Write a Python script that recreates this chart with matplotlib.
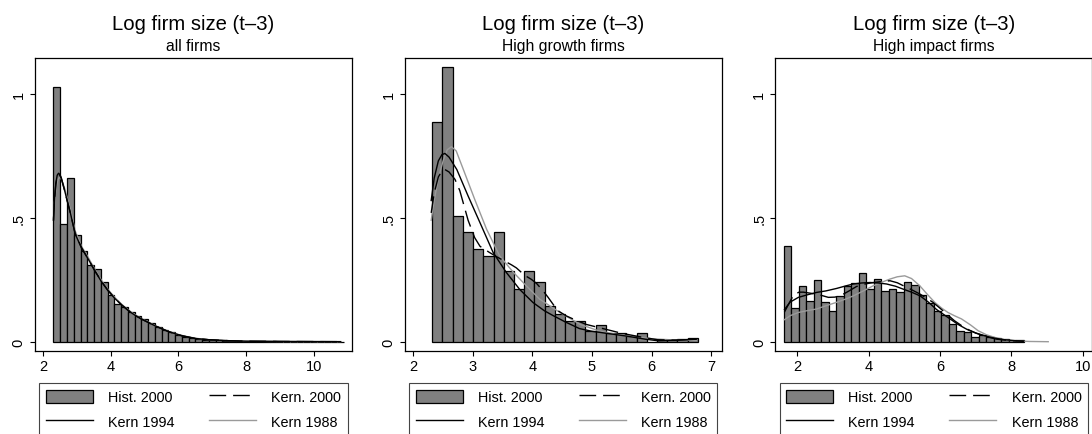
import numpy as np
import matplotlib
matplotlib.use('Agg')
import matplotlib.pyplot as plt
from matplotlib.patches import Patch
from matplotlib.lines import Line2D

matplotlib.rcParams['font.family'] = ['Liberation Sans', 'DejaVu Sans']
matplotlib.rcParams['lines.scale_dashes'] = False

##########################################
## Data          ##
##########################################
titles = ['Log firm size (t\u20133)'] * 3
subtitles = ['all firms', 'High growth firms', 'High impact firms']

# histogram 2000: first bin edge, bin width, densities
hist_start = [2.3, 2.318, 1.627]
hist_width = [0.2, 0.1715, 0.2098]
hist_all = [1.028, 0.477, 0.659, 0.432, 0.366, 0.309, 0.293, 0.243, 0.189, 0.154,
            0.142, 0.118, 0.102, 0.091, 0.075, 0.058, 0.047, 0.038, 0.027, 0.021,
            0.016, 0.011, 0.008, 0.006, 0.005, 0.004, 0.003, 0.002, 0.002, 0.0015,
            0.001, 0.001, 0.001, 0.0008, 0.0006, 0.0005, 0.0005, 0.0004, 0.0003,
            0.0003, 0.0002, 0.0002, 0.0004]
hist_growth = [0.886, 1.108, 0.509, 0.441, 0.374, 0.347, 0.441, 0.287, 0.213, 0.287,
               0.240, 0.145, 0.112, 0.085, 0.085, 0.044, 0.067, 0.034, 0.034, 0.024,
               0.034, 0.0, 0.008, 0.008, 0.011, 0.015]
hist_impact = [0.385, 0.135, 0.226, 0.166, 0.249, 0.162, 0.125, 0.186, 0.226, 0.236,
               0.276, 0.213, 0.253, 0.206, 0.213, 0.202, 0.240, 0.229, 0.188, 0.156,
               0.122, 0.109, 0.071, 0.044, 0.040, 0.017, 0.027, 0.017, 0.013, 0.011,
               0.007, 0.008]

# kernel densities, all firms
k_all_x = [2.3, 2.33, 2.37, 2.41, 2.45, 2.49, 2.53, 2.58, 2.64, 2.7, 2.8, 2.94, 3.13,
           3.33, 3.53, 3.73, 3.92, 4.12, 4.32, 4.52, 4.71, 4.91, 5.31, 5.7, 6.1, 6.5,
           6.9, 7.5, 8.0, 9.0, 10.0, 10.8]
k_all_2000 = [0.49, 0.57, 0.635, 0.668, 0.676, 0.672, 0.66, 0.635, 0.605, 0.572, 0.52,
              0.438, 0.38, 0.333, 0.285, 0.242, 0.206, 0.175, 0.148, 0.126, 0.107,
              0.091, 0.064, 0.041, 0.024, 0.013, 0.008, 0.004, 0.002, 0.001, 0.0005,
              0.0002]
k_all_1994 = [0.49, 0.575, 0.64, 0.672, 0.68, 0.675, 0.662, 0.636, 0.605, 0.572, 0.52,
              0.436, 0.378, 0.333, 0.285, 0.24, 0.205, 0.174, 0.148, 0.125, 0.107,
              0.091, 0.064, 0.041, 0.024, 0.013, 0.008, 0.004, 0.002, 0.001, 0.0005,
              0.0002]
k_all_1988 = [0.5, 0.565, 0.615, 0.645, 0.66, 0.662, 0.656, 0.64, 0.615, 0.585, 0.535,
              0.448, 0.385, 0.34, 0.29, 0.246, 0.21, 0.178, 0.151, 0.128, 0.109,
              0.093, 0.065, 0.042, 0.025, 0.014, 0.008, 0.004, 0.002, 0.001, 0.0005,
              0.0002]

# kernel densities, high growth firms
k_gr_2000_x = [2.3, 2.35, 2.42, 2.48, 2.53, 2.6, 2.7, 2.78, 2.92, 3.03, 3.12, 3.28,
               3.42, 3.56, 3.65, 3.73, 3.87, 3.98, 4.07, 4.18, 4.26, 4.35, 4.43, 4.56,
               4.69, 4.9, 5.1, 5.3, 5.5, 5.8, 6.1, 6.4, 6.75]
k_gr_2000 = [0.52, 0.6, 0.665, 0.69, 0.695, 0.685, 0.655, 0.61, 0.49, 0.42, 0.385,
             0.36, 0.34, 0.322, 0.31, 0.298, 0.268, 0.252, 0.235, 0.205, 0.18, 0.15,
             0.125, 0.105, 0.091, 0.07, 0.058, 0.046, 0.034, 0.02, 0.008, 0.006, 0.01]
k_gr_1994_x = [2.3, 2.35, 2.42, 2.48, 2.53, 2.6, 2.73, 2.92, 3.12, 3.34, 3.56, 3.79,
               4.01, 4.2, 4.35, 4.55, 4.79, 5.0, 5.3, 5.6, 5.9, 6.1, 6.4, 6.75]
k_gr_1994 = [0.57, 0.66, 0.73, 0.755, 0.76, 0.745, 0.695, 0.588, 0.48, 0.36, 0.28,
             0.21, 0.158, 0.125, 0.105, 0.08, 0.053, 0.042, 0.032, 0.022, 0.01, 0.004,
             0.006, 0.01]
k_gr_1988_x = [2.3, 2.35, 2.42, 2.5, 2.57, 2.64, 2.72, 2.84, 3.03, 3.23, 3.45, 3.68,
               3.9, 4.12, 4.46, 4.8, 5.1, 5.4, 5.7, 6.0, 6.3, 6.75]
k_gr_1988 = [0.49, 0.57, 0.66, 0.73, 0.775, 0.787, 0.77, 0.695, 0.575, 0.454, 0.346,
             0.28, 0.225, 0.172, 0.118, 0.07, 0.045, 0.03, 0.02, 0.012, 0.008, 0.005]

# kernel densities, high impact firms
k_im_2000_x = [1.64, 1.75, 1.9, 2.05, 2.17, 2.4, 2.65, 2.87, 3.05, 3.2, 3.45, 3.66,
               3.9, 4.13, 4.37, 4.6, 4.8, 4.97, 5.2, 5.44, 5.62, 5.8, 6.0, 6.2, 6.4,
               6.6, 6.8, 7.0, 7.3, 7.6, 8.0, 8.34]
k_im_2000 = [0.12, 0.15, 0.19, 0.2, 0.2, 0.195, 0.188, 0.179, 0.18, 0.185, 0.205,
             0.223, 0.233, 0.239, 0.243, 0.246, 0.238, 0.226, 0.21, 0.192, 0.176,
             0.159, 0.135, 0.11, 0.085, 0.065, 0.048, 0.035, 0.02, 0.01, 0.004, 0.002]
k_im_1994_x = [1.64, 1.8, 2.03, 2.3, 2.54, 2.8, 3.1, 3.35, 3.57, 3.8, 4.04, 4.27, 4.5,
               4.75, 4.97, 5.2, 5.44, 5.67, 5.9, 6.2, 6.5, 6.75, 7.0, 7.25, 7.5, 7.8,
               8.1, 8.34]
k_im_1994 = [0.13, 0.16, 0.179, 0.19, 0.199, 0.205, 0.215, 0.225, 0.233, 0.237, 0.239,
             0.237, 0.233, 0.224, 0.212, 0.2, 0.185, 0.16, 0.13, 0.1, 0.07, 0.05,
             0.035, 0.024, 0.015, 0.008, 0.004, 0.002]
k_im_1988_x = [1.64, 1.8, 2.03, 2.3, 2.54, 2.8, 3.1, 3.35, 3.57, 3.85, 4.13, 4.4, 4.6,
               4.8, 5.01, 5.2, 5.43, 5.65, 5.85, 6.05, 6.22, 6.4, 6.6, 6.85, 7.07, 7.3,
               7.54, 7.8, 8.0, 8.5, 9.03]
k_im_1988 = [0.089, 0.105, 0.118, 0.126, 0.132, 0.145, 0.159, 0.172, 0.185, 0.205,
             0.226, 0.242, 0.253, 0.262, 0.266, 0.255, 0.226, 0.19, 0.159, 0.135,
             0.118, 0.105, 0.092, 0.068, 0.044, 0.028, 0.017, 0.008, 0.004, 0.001, 0.0]

hists = [hist_all, hist_growth, hist_impact]
kern_2000 = [(k_all_x, k_all_2000), (k_gr_2000_x, k_gr_2000), (k_im_2000_x, k_im_2000)]
kern_1994 = [(k_all_x, k_all_1994), (k_gr_1994_x, k_gr_1994), (k_im_1994_x, k_im_1994)]
kern_1988 = [(k_all_x, k_all_1988), (k_gr_1988_x, k_gr_1988), (k_im_1988_x, k_im_1988)]

xticks = [[2, 4, 6, 8, 10], [2, 3, 4, 5, 6, 7], [2, 4, 6, 8, 10]]
xlims = [(1.753, 11.136), (1.855, 7.178), (1.383, 10.265)]
yticks = [0, 0.5, 1]
ytick_labels = ['0', '.5', '1']
# legend fills column by column: col 1 = Hist/Kern 1994, col 2 = Kern. 2000/Kern 1988
legend_labels = ['Hist. 2000', 'Kern 1994', 'Kern. 2000', 'Kern 1988']

##########################################
## Style                                ##
##########################################
W, H = 1092, 435
bar_color = '#808080'
gray_line = '#9a9a9a'
dash = (0, (12, 5))
ax_lefts = [35, 404.7, 775.3]   # pixels
ax_w, ax_top, ax_bot = 317, 59.3, 351.7

fig = plt.figure(figsize=(W / 100, H / 100), dpi=100)
fig.patch.set_facecolor('white')

for i in range(3):
    ax = fig.add_axes([ax_lefts[i] / W, 1 - ax_bot / H, ax_w / W, (ax_bot - ax_top) / H])
    h = hists[i]
    edges = hist_start[i] + hist_width[i] * np.arange(len(h))
    ax.bar(edges, h, width=hist_width[i], align='edge', color=bar_color,
           edgecolor='black', linewidth=0.9, zorder=1)
    ax.plot(*kern_1988[i], color=gray_line, lw=1.0, zorder=3)
    ax.plot(*kern_1994[i], color='black', lw=1.0, zorder=4)
    ax.plot(*kern_2000[i], color='black', lw=1.0, linestyle=dash, zorder=5)

    ax.set_xlim(*xlims[i])
    ax.set_ylim(-0.0363, 1.144)
    ax.set_xticks(xticks[i])
    ax.set_xticklabels([str(t) for t in xticks[i]])
    ax.set_yticks(yticks)
    ax.set_yticklabels(ytick_labels, rotation=90, va='center')
    ax.tick_params(axis='both', direction='out', length=3.6, width=0.8,
                   labelsize=10.5, color='black')
    ax.tick_params(axis='x', pad=2.5)
    ax.tick_params(axis='y', pad=3)
    for s in ax.spines.values():
        s.set_linewidth(0.9)
        s.set_color('black')

    ax.text(0.5, (ax_bot - 24) / (ax_bot - ax_top), titles[i], transform=ax.transAxes,
            ha='center', va='center', fontsize=14.6)
    ax.text(0.5, (ax_bot - 46.7) / (ax_bot - ax_top), subtitles[i], transform=ax.transAxes,
            ha='center', va='center', fontsize=11.3)

    handles = [Patch(facecolor=bar_color, edgecolor='black', linewidth=0.9),
               Line2D([], [], color='black', lw=1.0),
               Line2D([], [], color='black', lw=1.0, linestyle=dash),
               Line2D([], [], color=gray_line, lw=1.0)]
    leg = ax.legend(handles, legend_labels, ncol=2, loc='upper center',
                    bbox_to_anchor=(0.5, -(384 - ax_bot) / (ax_bot - ax_top)),
                    fontsize=10.4, frameon=True, fancybox=False, framealpha=1,
                    edgecolor='#444444', handlelength=3.25, handleheight=1.05,
                    handletextpad=1.05, columnspacing=2.4, borderpad=0.45,
                    labelspacing=0.7, borderaxespad=0)
    leg.get_frame().set_linewidth(0.8)

plt.savefig('out.png', dpi=100)
